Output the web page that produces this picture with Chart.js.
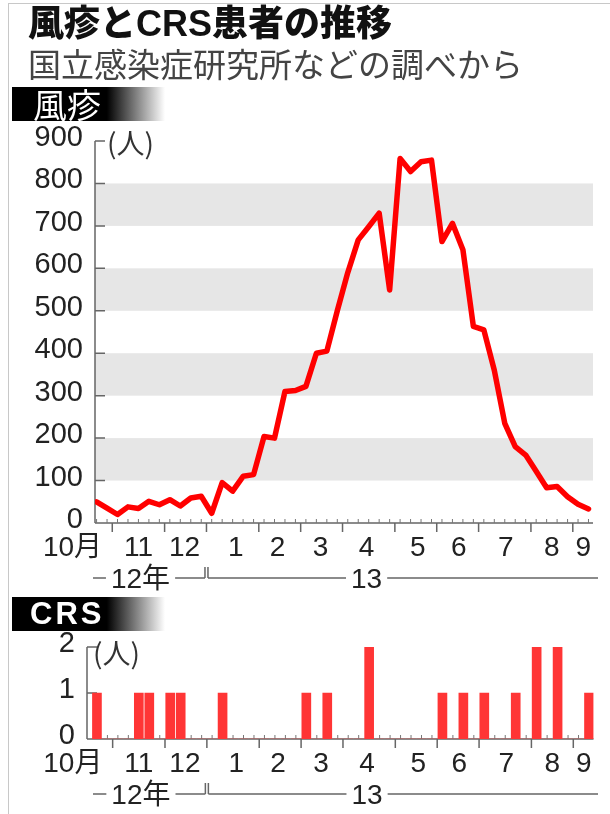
<!DOCTYPE html>
<html lang="ja">
<head>
<meta charset="utf-8">
<title>風疹とCRS患者の推移</title>
<script src="https://cdn.jsdelivr.net/npm/chart.js@4.4.1/dist/chart.umd.min.js"></script>
<style>
  html, body { margin: 0; padding: 0; background: #fff; }
  body { width: 610px; height: 814px; position: relative; overflow: hidden;
         font-family: "Liberation Sans", "Noto Sans CJK JP", sans-serif; }
  .frame { position: absolute; left: 8px; top: 3px; width: 602px; height: 811px;
           border-left: 1px solid #c8c8c8; border-top: 1px solid #c8c8c8; }
  canvas { position: absolute; left: 0; }
  #rubellaChart { top: 0; }
  #crsChart { top: 600px; }
  .title { position: absolute; left: 28px; top: 6px; font-size: 36px; line-height: 36px;
           font-weight: 900; color: #111; z-index: 2; white-space: nowrap; }
  .source { position: absolute; left: 28px; top: 47px; font-size: 33px; line-height: 33px;
            color: #444; z-index: 2; white-space: nowrap; font-family: "Noto Sans CJK JP", sans-serif; }
  .tag { position: absolute; left: 12px; width: 153px; height: 34px; z-index: 2;
         background: linear-gradient(to right, #000 0%, #000 62%, #fff 100%);
         color: #fff; line-height: 34px; box-sizing: border-box; }
  #tag1 { top: 87px; font-size: 34px; padding-left: 21px; font-family: "Noto Sans CJK JP", sans-serif; }
  #tag2 { top: 597px; font-size: 31px; padding-left: 18px; font-weight: bold; letter-spacing: 3px; }
</style>
</head>
<body>
<div class="frame"></div>
<div class="title">風疹とCRS患者の推移</div>
<div class="source">国立感染症研究所などの調べから</div>
<div class="tag" id="tag1">風疹</div>
<div class="tag" id="tag2">CRS</div>
<canvas id="rubellaChart" width="610" height="600"></canvas>
<canvas id="crsChart" width="610" height="214"></canvas>
<script>
// weekly counts, Oct 2012 - Sep 2013 (48 weeks)
const rubellaCases = [50, 35, 20, 38, 34, 51, 43, 55, 40, 59, 63, 23, 95, 75, 110, 114,
  204, 200, 310, 312, 322, 400, 405, 500, 590, 667, 698, 730, 549, 859, 828, 851,
  855, 663, 706, 644, 463, 455, 360, 235, 180, 160, 122, 83, 86, 62, 44, 33];
const crsCases = [1, 0, 0, 0, 1, 1, 0, 1, 1, 0, 0, 0, 1, 0, 0, 0,
  0, 0, 0, 0, 1, 0, 1, 0, 0, 0, 2, 0, 0, 0, 0, 0,
  0, 1, 0, 1, 0, 1, 0, 0, 1, 0, 2, 0, 2, 0, 0, 1];

const rubellaTicks = [0, 100, 200, 300, 400, 500, 600, 700, 800, 900];
const crsTicks = [0, 1, 2];
const shadedBands = [[100, 200], [300, 400], [500, 600], [700, 800]];

const monthLabels = ['10月', '11', '12', '1', '2', '3', '4', '5', '6', '7', '8', '9'];
const monthLabelAt = [-2.3, 4.0, 8.4, 13.3, 17.3, 21.4, 25.8, 30.7, 34.6, 39.1, 43.5, 46.5];
const monthBreaks = [1.5, 6.5, 10.5, 15.5, 19.5, 23.5, 28.5, 32.5, 36.5, 41.5, 45.5];
const yearLabels = ['12年', '13'];
const yearLabelAt = [4.2, 25.8];
const yearBreak = 10.5;

const weekIdx = rubellaCases.map((v, i) => i);
const FONT = '"Liberation Sans", "Noto Sans CJK JP", sans-serif';

const decor = {
  id: 'decor',
  beforeDraw(chart, args, o) {
    const { ctx, chartArea: a, scales: { y } } = chart;
    ctx.save();
    ctx.fillStyle = '#e6e6e6';
    o.bands.forEach(([lo, hi]) => {
      const top = y.getPixelForValue(hi);
      const bot = y.getPixelForValue(lo);
      ctx.fillRect(a.left, top, a.right - a.left, bot - top);
    });
    ctx.restore();
  },
  beforeDatasetsDraw(chart, args, o) {
    const { ctx, chartArea: a, scales: { x, y } } = chart;
    ctx.save();
    ctx.strokeStyle = '#666';
    ctx.lineWidth = 1.5;
    ctx.beginPath();
    ctx.moveTo(a.left, a.top);
    ctx.lineTo(a.left, a.bottom);
    ctx.moveTo(a.left, a.bottom);
    ctx.lineTo(a.right, a.bottom);
    o.yTicks.forEach(v => {
      if (v === 0) return;
      const py = y.getPixelForValue(v);
      ctx.moveTo(a.left, py);
      ctx.lineTo(a.left + 10, py);
    });
    monthBreaks.forEach(m => {
      const px = x.getPixelForValue(m);
      ctx.moveTo(px, a.bottom);
      ctx.lineTo(px, a.bottom + 9);
    });
    ctx.stroke();

    ctx.lineWidth = 1;
    ctx.strokeStyle = '#777';
    ctx.beginPath();
    weekIdx.forEach(i => {
      const px = x.getPixelForValue(i);
      ctx.moveTo(px, a.bottom);
      ctx.lineTo(px, a.bottom - 4);
    });
    ctx.stroke();
    ctx.restore();
  },
  afterDraw(chart, args, o) {
    const { ctx, chartArea: a, scales: { x, y } } = chart;
    ctx.save();
    ctx.fillStyle = '#222';
    ctx.font = '28px ' + FONT;
    ctx.textAlign = 'center';
    ctx.textBaseline = 'middle';
    monthLabels.forEach((t, k) => {
      ctx.fillText(t, x.getPixelForValue(monthLabelAt[k]), a.bottom + 25);
    });

    // year row
    const yy = a.bottom + 55;
    const brk = x.getPixelForValue(yearBreak);
    const gap = 5;
    ctx.strokeStyle = '#666';
    ctx.lineWidth = 1.5;
    ctx.beginPath();
    const ranges = [[93, brk - 1.5], [brk + 1.5, 598]];
    yearLabels.forEach((t, k) => {
      const cx = x.getPixelForValue(yearLabelAt[k]);
      const w = ctx.measureText(t).width;
      ctx.fillText(t, cx, yy + 2);
      const [s, e] = ranges[k];
      ctx.moveTo(s, yy);
      ctx.lineTo(cx - w / 2 - gap, yy);
      ctx.moveTo(cx + w / 2 + gap, yy);
      ctx.lineTo(e, yy);
    });
    ctx.moveTo(brk - 1.5, yy);
    ctx.lineTo(brk - 1.5, yy - 11);
    ctx.moveTo(brk + 1.5, yy);
    ctx.lineTo(brk + 1.5, yy - 11);
    ctx.stroke();

    // unit label
    ctx.fillStyle = '#333';
    ctx.font = '28px "Noto Sans CJK JP", sans-serif';
    ctx.textAlign = 'left';
    ctx.fillText('(人)', a.left + o.unitDx, a.top + o.unitDy);
    ctx.restore();
  }
};

const yTickStyle = { padding: 12, color: '#222', font: { size: 29, family: FONT }, labelOffset: -3 };

new Chart(document.getElementById('rubellaChart'), {
  type: 'line',
  data: {
    datasets: [{
      data: rubellaCases.map((v, i) => ({ x: i, y: v })),
      borderColor: '#ff0000',
      borderWidth: 5.5,
      pointRadius: 0,
      tension: 0,
      borderJoinStyle: 'round',
      borderCapStyle: 'round'
    }]
  },
  options: {
    responsive: false,
    animation: false,
    devicePixelRatio: 1,
    layout: { padding: { top: 141, bottom: 77, right: 17, left: 0 } },
    plugins: {
      legend: { display: false },
      tooltip: { enabled: false },
      decor: { bands: shadedBands, yTicks: rubellaTicks, unitDx: 12, unitDy: 2 }
    },
    scales: {
      x: { type: 'linear', min: -0.15, max: 47.43, offset: false, display: false },
      y: {
        min: 0, max: 900,
        afterFit(s) { s.width = 95; },
        afterBuildTicks(s) { s.ticks = rubellaTicks.map(v => ({ value: v })); },
        grid: { display: false, drawTicks: false },
        border: { display: false },
        ticks: yTickStyle
      }
    }
  },
  plugins: [decor]
});

new Chart(document.getElementById('crsChart'), {
  type: 'bar',
  data: {
    datasets: [{
      data: crsCases.map((v, i) => ({ x: i, y: v })),
      backgroundColor: '#ff3535',
      borderWidth: 0,
      barThickness: 9
    }]
  },
  options: {
    responsive: false,
    animation: false,
    devicePixelRatio: 1,
    layout: { padding: { top: 47, bottom: 75, right: 16.5, left: 0 } },
    plugins: {
      legend: { display: false },
      tooltip: { enabled: false },
      decor: { bands: [], yTicks: crsTicks, unitDx: 6, unitDy: 6 }
    },
    scales: {
      x: { type: 'linear', min: -0.95, max: 47.43, offset: false, display: false,
           grid: { offset: false } },
      y: {
        min: 0, max: 2,
        afterFit(s) { s.width = 87; },
        afterBuildTicks(s) { s.ticks = crsTicks.map(v => ({ value: v })); },
        grid: { display: false, drawTicks: false },
        border: { display: false },
        ticks: yTickStyle
      }
    }
  },
  plugins: [decor]
});
</script>
</body>
</html>
